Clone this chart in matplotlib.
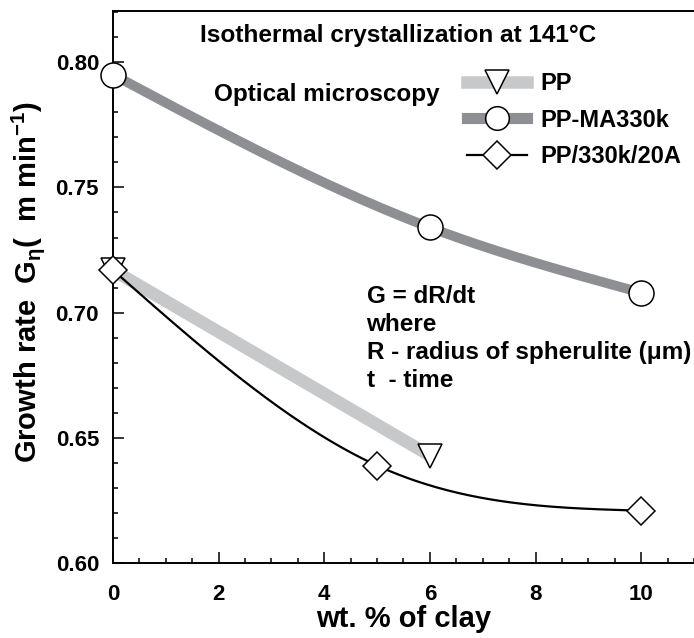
import numpy as np
import matplotlib
matplotlib.use('Agg')
import matplotlib.pyplot as plt
from matplotlib.lines import Line2D
from matplotlib.ticker import MultipleLocator, FormatStrFormatter

plt.rcParams['font.family'] = ['Liberation Sans', 'DejaVu Sans']
plt.rcParams['font.weight'] = 'bold'
plt.rcParams['mathtext.default'] = 'regular'

# data
pp_x = [0, 6]
pp_y = [0.717, 0.643]
ma_x = [0, 6, 10]
ma_y = [0.795, 0.734, 0.708]
clay_x = [0, 5, 10]
clay_y = [0.717, 0.639, 0.621]

labels = ['PP', 'PP-MA330k', 'PP/330k/20A']
x_ticks = [0, 2, 4, 6, 8, 10]
y_ticks = [0.60, 0.65, 0.70, 0.75, 0.80]

note_lines = ['G = dR/dt', 'where', 'R - radius of spherulite (\u03bcm)', 't  - time']

DARK = '#8e8f92'
LIGHT = '#c7c8ca'


def natural_spline(x, y, n=200):
    # smooth curve through the points, like the one drawn in the original
    x = np.asarray(x, float)
    y = np.asarray(y, float)
    k = len(x)
    h = np.diff(x)
    A = np.zeros((k, k))
    r = np.zeros(k)
    A[0, 0] = A[-1, -1] = 1
    for i in range(1, k - 1):
        A[i, i - 1] = h[i - 1]
        A[i, i] = 2 * (h[i - 1] + h[i])
        A[i, i + 1] = h[i]
        r[i] = 6 * ((y[i + 1] - y[i]) / h[i] - (y[i] - y[i - 1]) / h[i - 1])
    M = np.linalg.solve(A, r)
    xs = np.linspace(x[0], x[-1], n)
    idx = np.clip(np.searchsorted(x, xs) - 1, 0, k - 2)
    x0, x1 = x[idx], x[idx + 1]
    hh = x1 - x0
    a = x1 - xs
    b = xs - x0
    ys = (M[idx] * a ** 3 / (6 * hh) + M[idx + 1] * b ** 3 / (6 * hh)
          + (y[idx] / hh - M[idx] * hh / 6) * a
          + (y[idx + 1] / hh - M[idx + 1] * hh / 6) * b)
    return xs, ys


fig = plt.figure(figsize=(6.94, 6.38), dpi=100)
ax = fig.add_axes([0.1628, 0.1171, 0.8372, 0.8657])

# lines
ax.plot(pp_x, pp_y, color=LIGHT, lw=9, solid_capstyle='butt', zorder=2)
sx, sy = natural_spline(ma_x, ma_y)
ax.plot(sx, sy, color=DARK, lw=7, solid_capstyle='butt', zorder=2)
sx, sy = natural_spline(clay_x, clay_y)
ax.plot(sx, sy, color='black', lw=1.6, zorder=3)

# markers
mk = dict(ls='none', mfc='white', mec='black', mew=1.1, clip_on=False)
ax.plot(pp_x, pp_y, marker='v', ms=17, zorder=5, **mk)
ax.plot(ma_x, ma_y, marker='o', ms=18, zorder=6, **mk)
ax.plot(clay_x, clay_y, marker='D', ms=14, zorder=7, **mk)

ax.set_xlim(0, 11)
ax.set_ylim(0.60, 0.8204)
ax.set_xticks(x_ticks)
ax.set_yticks(y_ticks)
ax.xaxis.set_minor_locator(MultipleLocator(0.5))
ax.yaxis.set_minor_locator(MultipleLocator(0.01))
ax.yaxis.set_major_formatter(FormatStrFormatter('%.2f'))
ax.tick_params(which='both', direction='in', top=False, right=False, width=1.1, labelsize=16)
ax.tick_params(which='major', length=8)
ax.tick_params(which='minor', length=3.6)
ax.tick_params(axis='x', pad=15)
ax.tick_params(axis='y', pad=10)
for s in ['left', 'bottom', 'top']:
    ax.spines[s].set_linewidth(1.4)
ax.spines['right'].set_visible(False)

ax.set_xlabel('wt. % of clay', fontsize=21, fontweight='bold')
ax.set_ylabel('Growth rate  G$_{\u03b7}$(  m min$^{-1}$)', fontsize=21, fontweight='bold')
ax.yaxis.set_label_coords(-0.113, 0.51)
ax.xaxis.set_label_coords(0.5, -0.075)

ax.text(5.39, 0.808, 'Isothermal crystallization at 141\u00b0C', fontsize=17.6,
        ha='center', va='baseline')
ax.text(1.91, 0.7845, 'Optical microscopy', fontsize=17.5, ha='left', va='baseline')
for i, line in enumerate(note_lines):
    ax.text(4.80, 0.704 - i * 0.0112, line, fontsize=17.5, ha='left', va='baseline')

handles = [
    Line2D([], [], color=LIGHT, lw=9, marker='v', ms=17, mfc='white', mec='black', mew=1.1),
    Line2D([], [], color=DARK, lw=8, marker='o', ms=17, mfc='white', mec='black', mew=1.1),
    Line2D([], [], color='black', lw=1.6, marker='D', ms=14, mfc='white', mec='black', mew=1.1),
]
fig.legend(handles, labels, loc='upper left', bbox_to_anchor=(467 / 694, 1 - 72 / 638),
           frameon=False, fontsize=17, handlelength=2.54, handletextpad=0.55,
           labelspacing=0.58, borderpad=0, borderaxespad=0, numpoints=1)

fig.savefig('out.png', dpi=100)
